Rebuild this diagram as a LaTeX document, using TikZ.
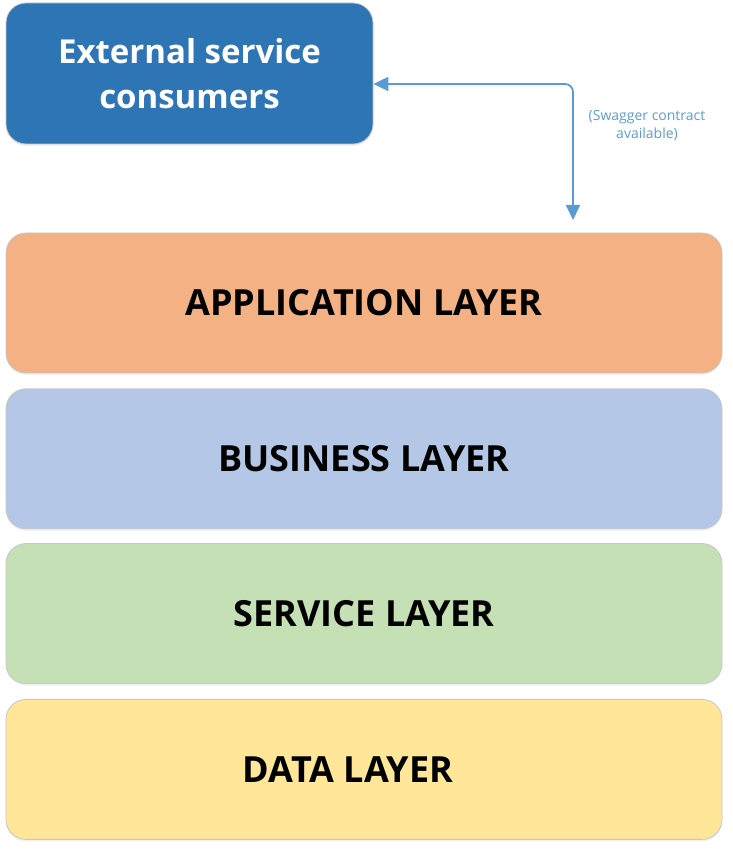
\documentclass[tikz,border=0pt]{standalone}
\usepackage{fontspec}
\setmainfont{Open Sans}
\usetikzlibrary{positioning,arrows.meta,shadows}
\definecolor{extblue}{HTML}{2E75B6}
\definecolor{appcol}{HTML}{F4B183}
\definecolor{buscol}{HTML}{B4C7E7}
\definecolor{srvcol}{HTML}{C5E0B4}
\definecolor{datcol}{HTML}{FFE699}
\definecolor{linkblue}{HTML}{5B9BD5}
\begin{document}
\begin{tikzpicture}[x=1pt,y=1pt,
  box/.style={draw=black!22,line width=0.8pt,rounded corners=20pt,align=center,
    font=\fontsize{36}{42}\selectfont\bfseries,
    drop shadow={opacity=0.12,shadow xshift=0pt,shadow yshift=-2pt}},
  layer/.style={box,minimum width=716pt,minimum height=140pt},
  link/.style={draw=linkblue,line width=1.8pt,rounded corners=8pt,
    {Triangle[width=14pt,length=15pt]}-{Triangle[width=14pt,length=15pt]}}]
\useasboundingbox (0,0) rectangle (732,852);
\node[box,fill=extblue,text=white,minimum width=367pt,minimum height=141pt,
  font=\fontsize{33}{45}\selectfont\bfseries] (ext) at (189.5,778.5) {External service\\consumers};
\node[layer,fill=appcol] (app) at (364,549) {APPLICATION LAYER};
\node[layer,fill=buscol,below=15pt of app] (bus) {BUSINESS LAYER};
\node[layer,fill=srvcol,below=14pt of bus] (srv) {SERVICE LAYER};
\node[layer,fill=datcol,below=15pt of srv] (dat) {DATA LAYER\hspace*{32pt}};
\coordinate (drop) at (573,632);
\draw[link] ([yshift=-10.5pt]ext.east) -| (drop);
\node[text=linkblue,align=center,font=\fontsize{14}{18}\selectfont] (swag) at (647,726) {(Swagger contract\\available)};
\end{tikzpicture}
\end{document}
